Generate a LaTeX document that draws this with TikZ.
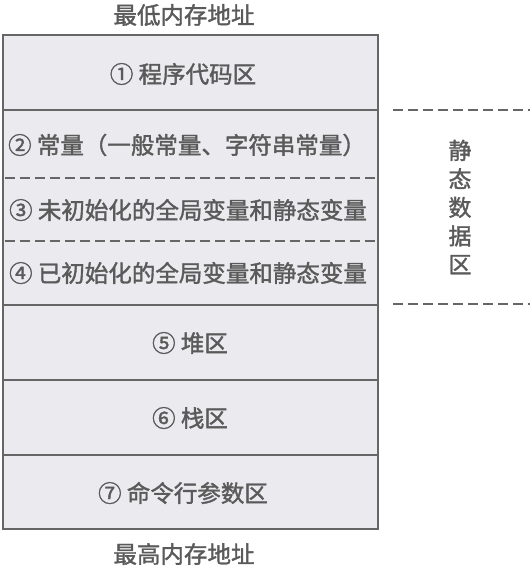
\documentclass[tikz,border=0pt]{standalone}
\usepackage{fontspec}
\newfontfamily\cjk[FakeBold=1.5]{Noto Sans CJK SC}
\definecolor{boxfill}{HTML}{EBEAEE}
\definecolor{boxline}{HTML}{666666}
\definecolor{txt}{HTML}{5A5A5A}
\begin{document}
\begin{tikzpicture}[x=1pt,y=-1pt,
  row/.style={draw=boxline,line width=2.2pt,fill=boxfill},
  lbl/.style={text=txt,font=\cjk\fontsize{23.5}{26}\selectfont,inner sep=0pt},
  sep/.style={draw=boxline,line width=1.6pt,dash pattern=on 10pt off 5pt}]
\useasboundingbox (0,0) rectangle (530,570);
% rows
\draw[row] (3,35) rectangle (378,110);
\draw[row] (3,110) rectangle (378,305);
\draw[row] (3,305) rectangle (378,380);
\draw[row] (3,380) rectangle (378,455);
\draw[row] (3,455) rectangle (378,529);
\coordinate (d1l) at (5,178); \coordinate (d1r) at (376,178);
\coordinate (d2l) at (5,241); \coordinate (d2r) at (376,241);
\draw[sep] (d1l) -- (d1r);
\draw[sep] (d2l) -- (d2r);
% labels
\node[lbl] (top) at (184,15) {最低内存地址};
\node[lbl] (bot) at (184,554) {最高内存地址};
\node[lbl] (r1) at (183,74) {① 程序代码区};
\node[lbl] (r2) at (187,145) {② 常量（一般常量、字符串常量）};
\node[lbl] (r3) at (188,210) {③ 未初始化的全局变量和静态变量};
\node[lbl] (r4) at (188,273) {④ 已初始化的全局变量和静态变量};
\node[lbl] (r5) at (190,343) {⑤ 堆区};
\node[lbl] (r6) at (190,418) {⑥ 栈区};
\node[lbl] (r7) at (183,493) {⑦ 命令行参数区};
% static data region marker
\coordinate (s1l) at (393,110); \coordinate (s1r) at (530,110);
\coordinate (s2l) at (393,304); \coordinate (s2r) at (530,304);
\draw[sep] (s1l) -- (s1r);
\draw[sep] (s2l) -- (s2r);
\node[lbl,align=center,font=\cjk\fontsize{23}{28.5}\selectfont] (st) at (460,207) {静\\态\\数\\据\\区};
\end{tikzpicture}
\end{document}
